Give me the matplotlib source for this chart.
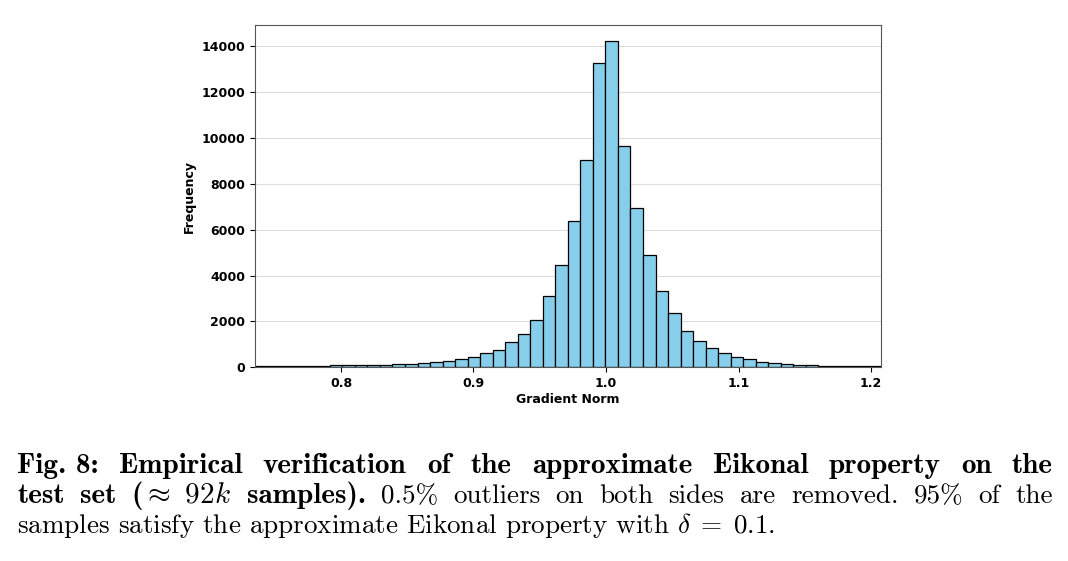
import numpy as np
import matplotlib
matplotlib.use("Agg")
import matplotlib.pyplot as plt

# histogram of gradient norms, 50 equal bins between the kept min / max
bin_lo = 0.7349
bin_hi = 1.2075
counts = [40, 45, 50, 55, 60, 65, 90, 85, 95, 95,
          100, 130, 145, 175, 220, 260, 350, 440, 640, 760,
          1120, 1440, 2050, 3090, 4450, 6380, 9040, 13280, 14210, 9650,
          6960, 4890, 3330, 2370, 1570, 1140, 860, 610, 440, 350,
          220, 200, 160, 120, 90, 75, 60, 50, 45, 40]
xticks = [0.8, 0.9, 1.0, 1.1, 1.2]
yticks = [0, 2000, 4000, 6000, 8000, 10000, 12000, 14000]

W, H = 1068, 561
plt.rcParams['mathtext.fontset'] = 'cm'
fig = plt.figure(figsize=(W / 100, H / 100), dpi=100)
ax = fig.add_axes([254.7 / W, 1 - 367.3 / H, (881 - 254.7) / W, (367.3 - 25) / H])

edges = np.linspace(bin_lo, bin_hi, len(counts) + 1)
ax.bar(edges[:-1], counts, width=np.diff(edges), align='edge',
       color='skyblue', edgecolor='black', linewidth=0.9)
ax.set_xlim(bin_lo, bin_hi)
ax.set_xticks(xticks)
ax.set_yticks(yticks)
ax.set_axisbelow(True)
ax.grid(axis='y', color='#dddddd', linewidth=0.8)
for s in ax.spines.values():
    s.set_color('#555555')
ax.tick_params(colors='black', labelsize=9)
for lb in ax.get_xticklabels() + ax.get_yticklabels():
    lb.set_fontweight('bold')
ax.set_xlabel('Gradient Norm', fontsize=9, fontweight='bold', labelpad=2)
ax.set_ylabel('Frequency', fontsize=9, fontweight='bold', labelpad=4)

# caption (justified like the paper)
reg_size = 19.5
bold_size = 21
R = fig.canvas.get_renderer()


def put_line(words, y, x0, x1):
    items = [fig.text(0, 1 - y / H, w, family=f, fontsize=s, va='baseline')
             for w, f, s in words]
    widths = [t.get_window_extent(R).width for t in items]
    gap = (x1 - x0 - sum(widths)) / (len(items) - 1)
    x = x0
    for t, wd in zip(items, widths):
        t.set_x(x / W)
        x += wd + gap


B, N = 'cmb10', 'cmr10'
line1 = "Fig. 8: Empirical verification of the approximate Eikonal property on the"
put_line([(w, B, bold_size) for w in ["Fig. 8:"] + line1.split()[2:]], 473, 17, 1053)
put_line([(w, B, bold_size) for w in ["test", "set", r"($\approx$ $92k$", "samples)."]]
         + [(w, N, reg_size) for w in "0.5% outliers on both sides are removed. 95% of the".split()],
         503, 17, 1053)
fig.text(17 / W, 1 - 533 / H,
         r"samples satisfy the approximate Eikonal property with $\delta\;=\;0.1$.",
         family=N, fontsize=reg_size, va='baseline')

fig.savefig('out.png', dpi=100)
